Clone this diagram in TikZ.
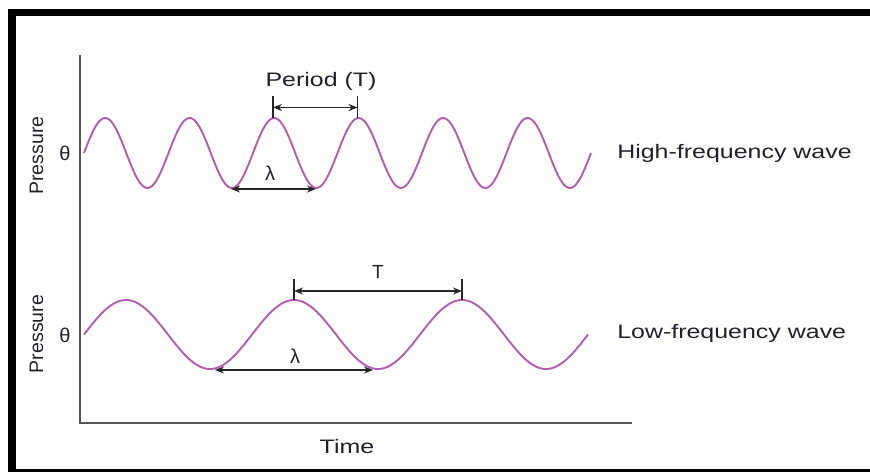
\documentclass[tikz,border=0pt]{standalone}
\usepackage{fontspec}
\setmainfont{Liberation Sans}
\usetikzlibrary{arrows.meta}
\definecolor{wavecol}{RGB}{178,92,178}
\definecolor{txtcol}{RGB}{32,32,44}
\definecolor{axiscol}{RGB}{85,85,85}
\tikzset{
  wave/.style={draw=wavecol,line width=1.9pt},
  axisline/.style={draw=axiscol,line width=2pt},
  lbl/.style={text=txtcol,inner sep=0pt,font=\fontsize{19.5}{22}\selectfont,xscale=1.28},
  sym/.style={text=txtcol,inner sep=0pt,font=\fontsize{20}{22}\selectfont},
  dimarrow/.style={draw=black!85,line width=1.5pt,{Stealth[length=9pt,width=7pt]}-{Stealth[length=9pt,width=7pt]}},
  tick/.style={draw=black!85,line width=1.5pt}
}
\begin{document}
\begin{tikzpicture}[x=1pt,y=-1pt]
\useasboundingbox (0,0) rectangle (870,472);
% frame
\fill[black] (8,9) rectangle (870,16);
\fill[black] (8,9) rectangle (16,472);
\fill[black] (8,469) rectangle (870,471.5);
% axes
\coordinate (axtop) at (80,55);
\coordinate (axorig) at (80,423);
\coordinate (axend) at (632,423);
\draw[axisline] (axtop) -- (axorig) -- (axend);
% waves
\draw[wave] plot[domain=84:591,samples=300] (\x,{153-35*sin((\x-84)/84.5*360)});
\draw[wave] plot[domain=84:588,samples=300] (\x,{334.5-34.5*sin((\x-84)/168*360)});
% high-frequency dimensions
\coordinate (hp1) at (273,118);
\coordinate (hp2) at (357.5,118);
\coordinate (hp1t) at (273,96);
\coordinate (hp2t) at (357.5,96);
\draw[tick] (hp1t) -- (hp1);
\draw[tick] (hp2t) -- (hp2);
\coordinate (ha1) at (273,107.5);
\coordinate (ha2) at (357.5,107.5);
\draw[dimarrow] (ha1) -- (ha2);
\coordinate (ht1) at (231,189);
\coordinate (ht2) at (316,189);
\draw[dimarrow] (ht1) -- (ht2);
% low-frequency dimensions
\coordinate (lp1) at (294,300);
\coordinate (lp2) at (462,300);
\coordinate (lp1t) at (294,279);
\coordinate (lp2t) at (462,279);
\draw[tick] (lp1t) -- (lp1);
\draw[tick] (lp2t) -- (lp2);
\coordinate (la1) at (294,291);
\coordinate (la2) at (462,291);
\draw[dimarrow] (la1) -- (la2);
\coordinate (lt1) at (210,370);
\coordinate (lt2) at (378,370);
\draw[dimarrow,shorten <=5pt,shorten >=5pt] (lt1) -- (lt2);
% labels
\node[lbl,anchor=base] (period) at (321,86) {Period (T)};
\node[lbl,anchor=base west] (hfw) at (617,158) {High-frequency wave};
\node[lbl,anchor=base west] (lfw) at (617,338) {Low-frequency wave};
\node[lbl,anchor=base] (time) at (347,453) {Time};
\node[lbl,xscale=1/1.28,rotate=90,anchor=base] (pr1) at (43,155.5) {Pressure};
\node[lbl,xscale=1/1.28,rotate=90,anchor=base] (pr2) at (43,334) {Pressure};
\node[sym] (th1) at (65,153) {θ};
\node[sym] (th2) at (65,335) {θ};
\node[sym] (lam1) at (270,173) {λ};
\node[sym] (lam2) at (295,356) {λ};
\node[lbl,xscale=1/1.28,font=\fontsize{19}{20}\selectfont] (tlow) at (378,272) {T};
\end{tikzpicture}
\end{document}
